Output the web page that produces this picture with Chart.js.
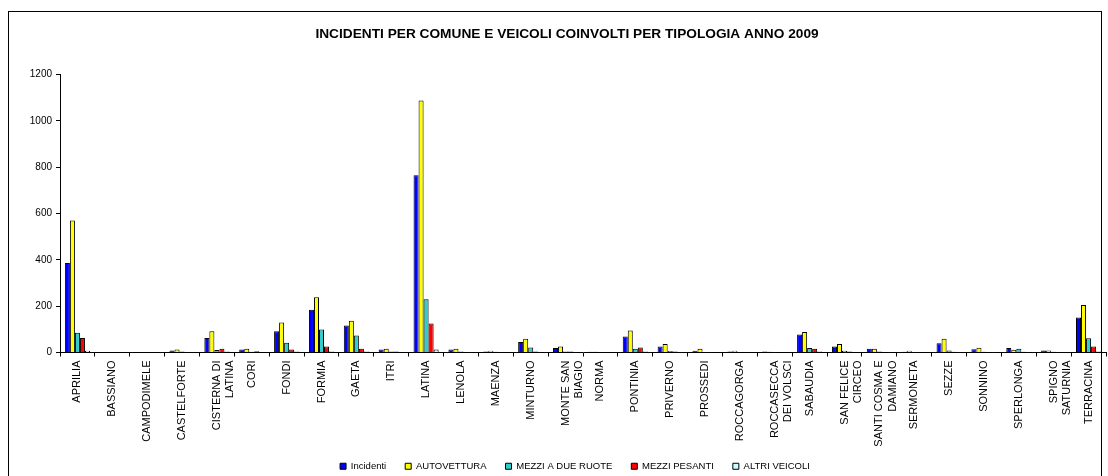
<!DOCTYPE html>
<html>
<head>
<meta charset="utf-8">
<script src="https://cdn.jsdelivr.net/npm/chart.js@4"></script>
<style>
  html, body { margin: 0; padding: 0; background: #fff; }
  #wrap { width: 1108px; height: 476px; }
</style>
</head>
<body>
<div id="wrap"><canvas id="chart" width="1108" height="476"></canvas></div>
<script>
const comuni = ["APRILIA", "BASSIANO", "CAMPODIMELE", "CASTELFORTE", ["CISTERNA DI", "LATINA"], "CORI", "FONDI",
  "FORMIA", "GAETA", "ITRI", "LATINA", "LENOLA", "MAENZA", "MINTURNO", ["MONTE SAN", "BIAGIO"], "NORMA",
  "PONTINIA", "PRIVERNO", "PROSSEDI", "ROCCAGORGA", ["ROCCASECCA", "DEI VOLSCI"], "SABAUDIA",
  ["SAN FELICE", "CIRCEO"], ["SANTI COSMA E", "DAMIANO"], "SERMONETA", "SEZZE", "SONNINO", "SPERLONGA",
  ["SPIGNO", "SATURNIA"], "TERRACINA"];

const incidenti   = [386, 0, 0, 9, 63, 13, 92, 184, 117, 13, 765, 13, 4, 45, 19, 3, 69, 26, 8, 4, 4, 78, 26, 16, 3, 40, 14, 19, 9, 151];
const autovettura = [570, 0, 0, 13, 92, 16, 130, 238, 137, 16, 1088, 16, 8, 59, 26, 3, 95, 37, 16, 8, 3, 89, 37, 16, 8, 59, 20, 12, 9, 205];
const dueRuote    = [85, 0, 0, 4, 11, 3, 42, 99, 73, 4, 230, 4, 3, 22, 4, 2, 16, 7, 1, 2, 1, 19, 8, 4, 1, 9, 3, 16, 3, 62];
const pesanti     = [63, 0, 0, 1, 16, 5, 13, 26, 16, 4, 125, 2, 1, 4, 4, 1, 22, 4, 1, 1, 0, 16, 4, 2, 1, 3, 1, 3, 1, 26];
const altri       = [8, 0, 0, 1, 4, 2, 4, 4, 4, 2, 13, 1, 0, 1, 1, 0, 4, 1, 0, 0, 0, 4, 2, 1, 0, 1, 1, 1, 1, 4];

const yTicks = [0, 200, 400, 600, 800, 1000, 1200];

const font = "'Liberation Sans', Arial, sans-serif";
Chart.defaults.font.family = font;
Chart.defaults.color = '#000';

// outer frame of the chart like the spreadsheet one
const frame = {
  id: 'frame',
  beforeDraw(c) {
    const ctx = c.ctx;
    ctx.save();
    ctx.fillStyle = '#fff';
    ctx.fillRect(0, 0, c.width, c.height);
    ctx.strokeStyle = '#000';
    ctx.lineWidth = 1;
    ctx.strokeRect(8.5, 11.5, 1093, 500);
    ctx.restore();
  }
};

// title and legend sit a bit off from where chart.js centres them
const nudge = {
  id: 'nudge',
  afterLayout(c) {
    const lg = c.legend;
    lg.left += 22; lg.right += 22;
    lg.top -= 7; lg.bottom -= 7;
    const t = c.titleBlock;
    t.left += 14; t.right += 14;
  }
};

function ds(label, values, color) {
  return {
    label: label,
    data: values,
    backgroundColor: color,
    borderColor: '#000',
    borderWidth: 1,
    borderSkipped: 'bottom',
    barPercentage: 1,
    categoryPercentage: 0.72
  };
}

const ctx = document.getElementById('chart').getContext('2d');
const chart = new Chart(ctx, {
  type: 'bar',
  data: {
    labels: comuni,
    datasets: [
      ds('Incidenti', incidenti, '#0000ff'),
      ds('AUTOVETTURA', autovettura, '#ffff00'),
      ds('MEZZI A DUE RUOTE', dueRuote, '#33cccc'),
      ds('MEZZI PESANTI', pesanti, '#ff0000'),
      ds('ALTRI VEICOLI', altri, '#ccffff')
    ]
  },
  plugins: [frame, nudge],
  options: {
    responsive: false,
    animation: false,
    layout: { padding: { left: 0, right: 2, top: 0, bottom: -12 } },
    plugins: {
      title: {
        display: true,
        text: 'INCIDENTI PER COMUNE E VEICOLI COINVOLTI PER TIPOLOGIA ANNO 2009',
        font: { size: 13.7, weight: 'bold' },
        color: '#000',
        padding: { top: 26, bottom: 32 }
      },
      legend: {
        position: 'bottom',
        labels: {
          boxWidth: 6,
          boxHeight: 6,
          padding: 19,
          font: { size: 9.5 },
          color: '#000'
        }
      },
      tooltip: { enabled: false }
    },
    scales: {
      x: {
        grid: { drawOnChartArea: false, drawTicks: true, tickLength: 4, color: '#000', offset: true },
        border: { display: true, color: '#000', width: 1 },
        ticks: { maxRotation: 90, minRotation: 90, autoSkip: false, padding: 4, font: { size: 11 }, color: '#000' },
        afterFit(s) { s.height = 97; }
      },
      y: {
        min: 0,
        max: 1200,
        afterBuildTicks(s) { s.ticks = yTicks.map(v => ({ value: v })); },
        grid: { drawOnChartArea: false, drawTicks: true, tickLength: 4, color: '#000' },
        border: { display: true, color: '#000', width: 1 },
        ticks: { padding: 4, font: { size: 10 }, color: '#000', callback: v => String(v) },
        afterFit(s) { s.width = 60; }
      }
    }
  }
});
</script>
</body>
</html>
